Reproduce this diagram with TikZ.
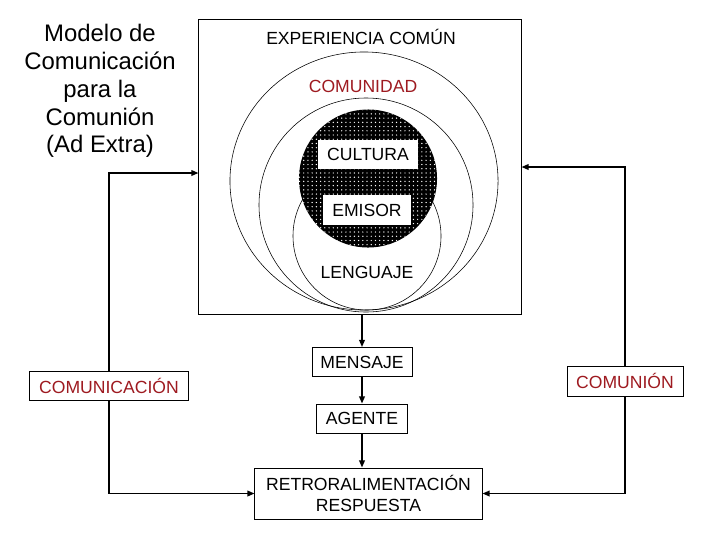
\documentclass[tikz,border=0pt]{standalone}
\usepackage{fontspec}
\setmainfont{Liberation Sans}
\usepackage{tikz}
\usetikzlibrary{arrows.meta,positioning,calc,patterns}
\definecolor{DeepRed}{HTML}{9E1A20}
\definecolor{Ink}{HTML}{000000}

\begin{document}
\begin{tikzpicture}[
  x=0.025cm,y=-0.025cm,
  box/.style={draw=Ink,line width=0.7pt,fill=white,inner sep=0pt,align=center,font=\fontsize{12.5}{14.5}\selectfont},
  tag/.style={fill=white,inner sep=0pt,font=\fontsize{12.5}{14.5}\selectfont},
  ring/.style={draw=Ink,line width=0.4pt},
  flow/.style={-{Triangle[length=5pt,width=4pt]},line width=1pt,draw=Ink}
]
\useasboundingbox (0,0) rectangle (720,540);
% title
\node[align=center,font=\fontsize{17}{19.8}\selectfont] (titulo) at (100,91) {Modelo de\\Comunicación\\para la\\Comunión\\(Ad Extra)};
% frame with the circles
\node[draw=Ink,line width=0.7pt,minimum width=8.05cm,minimum height=7.35cm] (marco) at (360,167) {};
\node[font=\fontsize{12.5}{14.5}\selectfont] (exper) at (361,37) {EXPERIENCIA COMÚN};
\draw[ring] (364,181) ellipse [x radius=3.35cm,y radius=3.225cm];
\draw[ring] (366,205) circle [radius=2.675cm];
\draw[ring] (367,236) circle [radius=1.85cm];
\fill[Ink] (368,178.5) circle [radius=1.725cm];
\fill[pattern=dots,pattern color=white] (368,178.5) circle [radius=1.725cm];
\node[font=\fontsize{12.5}{14.5}\selectfont,text=DeepRed] (comunidad) at (363,86) {COMUNIDAD};
\node[tag,minimum width=2.5cm,minimum height=0.725cm] (cultura) at (368,154) {CULTURA};
\node[tag,minimum width=2.175cm,minimum height=0.75cm] (emisor) at (367,210) {EMISOR};
\node[font=\fontsize{12.5}{14.5}\selectfont] (lenguaje) at (367,272) {LENGUAJE};
% chain below the frame
\node[box,minimum width=2.5cm,minimum height=0.725cm] (mensaje) at (362,362) {MENSAJE};
\node[box,minimum width=2.275cm,minimum height=0.725cm] (agente) at (362,418.5) {AGENTE};
\node[box,minimum width=5.675cm,minimum height=1.275cm] (retro) at (368.5,493.5) {RETRORALIMENTACIÓN\\RESPUESTA};
\node[box,text=DeepRed,minimum width=3.95cm,minimum height=0.725cm] (comunica) at (109,385.5) {COMUNICACIÓN};
\node[box,text=DeepRed,minimum width=2.9cm,minimum height=0.75cm] (comunion) at (625,381) {COMUNIÓN};
\draw[flow] (mensaje.north |- marco.south) -- (mensaje.north);
\draw[flow] (mensaje) -- (agente);
\draw[flow] (agente.south) -- (agente.south |- retro.north);
\draw[flow] (comunica) |- ([yshift=-0.15cm]marco.west);
\draw[flow] (comunica) |- (retro.west);
\draw[flow] (comunion) |- (marco.east);
\draw[flow] (comunion) |- (retro.east);
\end{tikzpicture}
\end{document}
